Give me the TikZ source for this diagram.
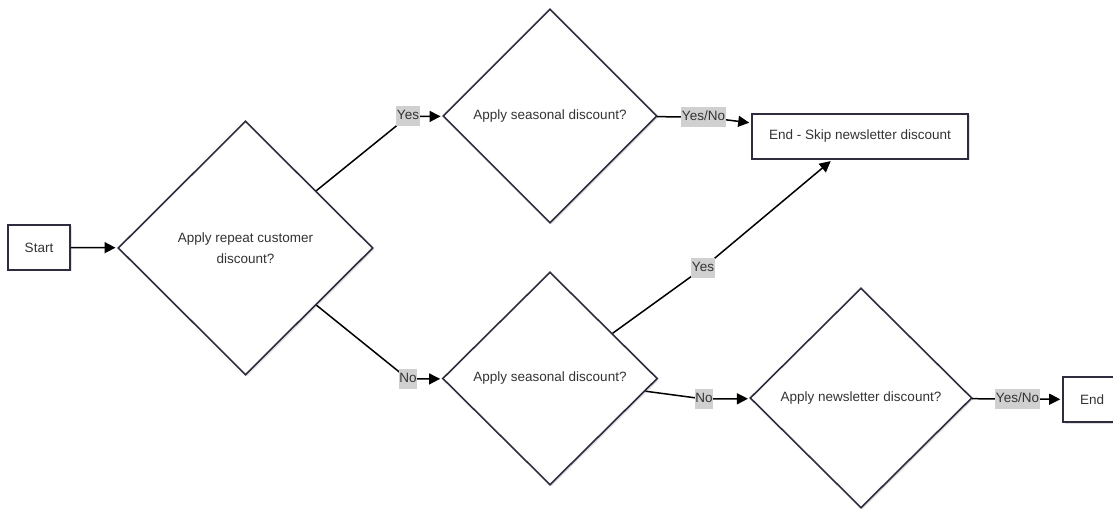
\documentclass[tikz,border=0pt]{standalone}
\usepackage{fontspec}
\setmainfont{Liberation Sans}
\usetikzlibrary{shapes.geometric,arrows.meta,shadows}
\definecolor{txt}{RGB}{51,51,51}
\definecolor{bord}{RGB}{45,45,62}
\definecolor{lblbg}{RGB}{208,208,208}
\begin{document}
\begin{tikzpicture}[x=1pt,y=-1pt,
  every node/.style={font=\fontsize{13.5}{21}\selectfont, text=txt},
  soft/.style={drop shadow={shadow xshift=1.5pt, shadow yshift=-1.5pt, fill=black, opacity=0.12}},
  box/.style={rectangle, draw=bord, line width=1.6pt, fill=white, inner sep=0pt, soft},
  decision/.style={diamond, draw=bord, line width=1.6pt, fill=white, inner sep=0pt, align=center, soft},
  edge/.style={draw=black, line width=1.5pt, -{Triangle[length=11pt,width=11pt]}, shorten >=2pt},
  elabel/.style={fill=lblbg, inner xsep=0.5pt, inner ysep=3.5pt, text height=10pt, text depth=3pt}]
\clip (0,0) rectangle (1113,510);

% process boxes and decisions
\node[box, minimum width=62pt, minimum height=45pt] (start) at (39,247.5) {Start};
\node[decision, minimum width=255pt, minimum height=254pt] (d1) at (245.5,248)
  {Apply repeat customer\\discount?};
\node[decision, minimum width=214pt, minimum height=214pt] (d2) at (550,116) {Apply seasonal discount?};
\node[decision, minimum width=215pt, minimum height=213pt] (d3) at (550,378.5) {Apply seasonal discount?};
\node[box, minimum width=216pt, minimum height=45pt] (skip) at (860,136.5) {End - Skip newsletter discount};
\node[decision, minimum width=222pt, minimum height=220pt] (d4) at (861,398) {Apply newsletter discount?};
\node[box, minimum width=58pt, minimum height=45pt] (fin) at (1092,399.5) {End};

% label positions on the connectors
\coordinate (c1) at (408,116.5);
\coordinate (c2) at (408,379);
\coordinate (c3) at (703.5,117);
\coordinate (c4) at (703,268);
\coordinate (c5) at (704,399);
\coordinate (c6) at (1017.5,399);

% connectors
\draw[edge] (start) -- (d1);
\draw[edge] (d1) -- (c1) -- (d2);
\draw[edge] (d1) -- (c2) -- (d3);
\draw[edge] (d2) -- (c3) -- (skip);
\draw[edge] (d3) -- (c4) -- (skip);
\draw[edge] (d3) -- (c5) -- (d4);
\draw[edge] (d4) -- (c6) -- (fin);

% connector labels
\node[elabel] (l1) at (c1) {Yes};
\node[elabel] (l2) at (c2) {No};
\node[elabel] (l3) at (c3) {Yes/No};
\node[elabel] (l4) at (c4) {Yes};
\node[elabel] (l5) at (c5) {No};
\node[elabel] (l6) at (c6) {Yes/No};
\end{tikzpicture}
\end{document}
